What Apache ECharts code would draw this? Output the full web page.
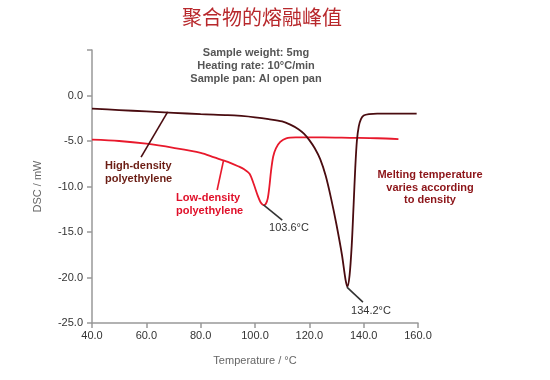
<!DOCTYPE html>
<html><head><meta charset="utf-8">
<script src="https://cdn.jsdelivr.net/npm/echarts@6/dist/echarts.min.js"></script>
<style>html,body{margin:0;padding:0;background:#fff}#c{width:550px;height:380px}</style>
</head><body><div id="c"></div>
<script>
// ---- data ----
var hdpe = [[40,-1.45],[50,-1.6],[60,-1.75],[70,-1.9],[80,-2.05],[90,-2.15],[95,-2.25],[100,-2.4],[105,-2.6],[110,-2.85],[113,-3.2],[116,-3.7],[118,-4.2],[120,-4.9],[122,-5.8],[124,-7.0],[126,-8.8],[128,-11.3],[130,-14.2],[132,-17.5],[133.3,-20.2],[134.0,-21.0],[134.8,-19.8],[135.6,-16.5],[136.3,-12],[136.9,-8],[137.5,-5],[138.2,-3.4],[139,-2.6],[140,-2.2],[142,-2.05],[145,-2.0],[150,-2.0],[155,-2.0],[159.5,-2.0]];
var ldpe = [[40,-4.85],[50,-5.0],[60,-5.3],[70,-5.75],[80,-6.3],[85,-6.8],[90,-7.3],[94,-7.8],[96,-8.1],[98,-8.6],[99.5,-9.7],[101,-11.0],[102,-11.7],[102.8,-12.0],[103.3,-12.05],[104,-11.9],[104.7,-11.3],[105.3,-10],[105.9,-8.3],[106.7,-6.7],[107.7,-5.8],[109.3,-5.1],[111.5,-4.7],[115,-4.6],[125,-4.6],[135,-4.65],[145,-4.7],[152.8,-4.8]];
var leaderHdpe = [[58.06,-6.77],[67.86,-1.80]];
var leaderLdpe = [[86.07,-10.38],[88.39,-7.17]];
var leaderPeakL = [[103.13,-12.03],[110.02,-13.69]];
var leaderPeakH = [[133.83,-21.05],[139.73,-22.70]];
var xMin = 40, xMax = 160, xStep = 20;
var yMin = -25, yMax = 5, yStep = 5;
var titleText = '聚合物的熔融峰值';
var infoLines = ['Sample weight: 5mg', 'Heating rate: 10°C/min', 'Sample pan: Al open pan'];

var chart = echarts.init(document.getElementById('c'));
var F = '"Liberation Sans", Arial, sans-serif';
var darkLine = '#4a0c10', redLine = '#e8192c';
function leader(d, color) {
  return {type:'line', data:d, symbol:'none', silent:true, lineStyle:{color:color, width:1.6}, z:3};
}
chart.setOption({
  animation:false,
  grid:{left:92, top:50, width:326, height:273},
  xAxis:{type:'value', min:xMin, max:xMax, interval:xStep,
    name:'Temperature / °C', nameLocation:'middle', nameGap:32,
    nameTextStyle:{color:'#666', fontFamily:F, fontSize:11},
    axisLine:{onZero:false, lineStyle:{color:'#999', width:1.5}},
    axisTick:{length:5, lineStyle:{color:'#999', width:1.5}},
    axisLabel:{color:'#333', fontFamily:F, fontSize:11, margin:7, formatter:function(v){return v.toFixed(1);}},
    splitLine:{show:false}},
  yAxis:{type:'value', min:yMin, max:yMax, interval:yStep,
    name:'DSC / mW', nameLocation:'middle', nameGap:49,
    nameTextStyle:{color:'#666', fontFamily:F, fontSize:11},
    axisLine:{show:true, onZero:false, lineStyle:{color:'#999', width:1.5}},
    axisTick:{show:true, length:5, lineStyle:{color:'#999', width:1.5}},
    axisLabel:{color:'#333', fontFamily:F, fontSize:11, margin:9, formatter:function(v){return v===yMax?'':v.toFixed(1);}},
    splitLine:{show:false}},
  series:[
    {type:'line', data:ldpe, symbol:'none', smooth:0.3, lineStyle:{color:redLine, width:1.8}, z:2},
    {type:'line', data:hdpe, symbol:'none', smooth:0.3, lineStyle:{color:darkLine, width:1.8}, z:3},
    leader(leaderHdpe, darkLine),
    leader(leaderLdpe, redLine),
    leader(leaderPeakL, '#333'),
    leader(leaderPeakH, '#333')
  ],
  graphic:[
    {type:'text', x:262, y:17, style:{text:titleText, fill:'#b8282c', font:'20px "Noto Sans CJK SC", sans-serif', textAlign:'center', textVerticalAlign:'middle'}},
    {type:'text', x:256, y:53, style:{text:infoLines[0], fill:'#555', font:'bold 11px '+F, textAlign:'center', textVerticalAlign:'middle'}},
    {type:'text', x:256, y:66, style:{text:infoLines[1], fill:'#555', font:'bold 11px '+F, textAlign:'center', textVerticalAlign:'middle'}},
    {type:'text', x:256, y:79, style:{text:infoLines[2], fill:'#555', font:'bold 11px '+F, textAlign:'center', textVerticalAlign:'middle'}},
    {type:'text', x:105, y:166, style:{text:'High-density', fill:'#6b1d14', font:'bold 11px '+F, textVerticalAlign:'middle'}},
    {type:'text', x:105, y:179, style:{text:'polyethylene', fill:'#6b1d14', font:'bold 11px '+F, textVerticalAlign:'middle'}},
    {type:'text', x:176, y:198, style:{text:'Low-density', fill:'#e0102a', font:'bold 11px '+F, textVerticalAlign:'middle'}},
    {type:'text', x:176, y:211, style:{text:'polyethylene', fill:'#e0102a', font:'bold 11px '+F, textVerticalAlign:'middle'}},
    {type:'text', x:289, y:228, style:{text:'103.6°C', fill:'#333', font:'11px '+F, textAlign:'center', textVerticalAlign:'middle'}},
    {type:'text', x:371, y:311, style:{text:'134.2°C', fill:'#333', font:'11px '+F, textAlign:'center', textVerticalAlign:'middle'}},
    {type:'text', x:430, y:175, style:{text:'Melting temperature', fill:'#8c1418', font:'bold 11px '+F, textAlign:'center', textVerticalAlign:'middle'}},
    {type:'text', x:430, y:188, style:{text:'varies according', fill:'#8c1418', font:'bold 11px '+F, textAlign:'center', textVerticalAlign:'middle'}},
    {type:'text', x:430, y:200, style:{text:'to density', fill:'#8c1418', font:'bold 11px '+F, textAlign:'center', textVerticalAlign:'middle'}}
  ]
});
</script></body></html>
